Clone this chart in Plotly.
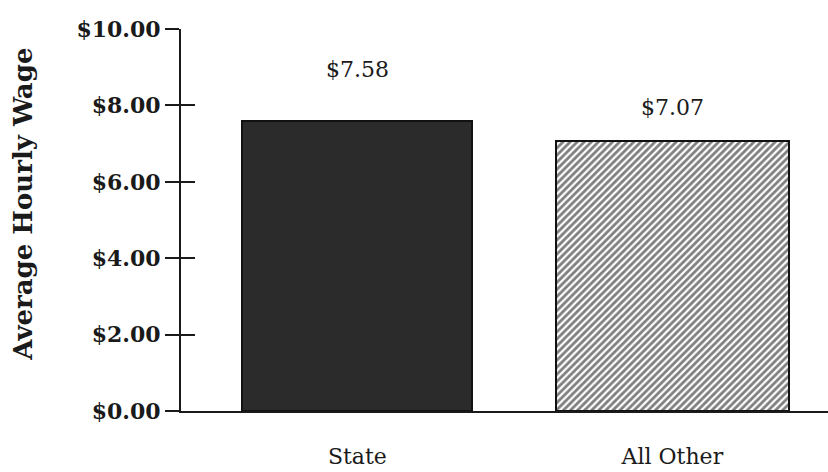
import plotly.graph_objects as go

categories = ["State", "All Other"]
wages = [7.58, 7.07]
value_labels = ["$7.58", "$7.07"]
y_tick_vals = [0, 2, 4, 6, 8, 10]
y_tick_text = ["$0.00", "$2.00", "$4.00", "$6.00", "$8.00", "$10.00"]
label_shift = [37, 19]

SERIF = "DejaVu Serif"

fig = go.Figure()
fig.add_trace(go.Bar(
    x=[categories[0]], y=[wages[0]], width=0.73,
    marker=dict(color="#2b2b2b", line=dict(color="#111111", width=2)),
    showlegend=False, hoverinfo="skip"))
fig.add_trace(go.Bar(
    x=[categories[1]], y=[wages[1]], width=0.74,
    marker=dict(color="white", line=dict(color="#111111", width=2),
                pattern=dict(shape="/", fgcolor="#000000", bgcolor="white",
                             size=5, solidity=0.55)),
    showlegend=False, hoverinfo="skip"))
# invisible trace for inner tick marks
fig.add_trace(go.Scatter(x=categories, y=wages, yaxis="y2", mode="markers",
                         marker=dict(opacity=0), showlegend=False, hoverinfo="skip"))

for c, v, t, s in zip(categories, wages, value_labels, label_shift):
    fig.add_annotation(x=c, y=v, text=t, showarrow=False, yshift=s,
                       yanchor="bottom", font=dict(family=SERIF, size=22, color="#1a1a1a"))

fig.add_annotation(x=0, y=0.54, xref="paper", yref="paper", xshift=-158,
                   xanchor="center", yanchor="middle",
                   text="Average Hourly Wage", textangle=-90, showarrow=False,
                   font=dict(family=SERIF, size=26, color="#1a1a1a", weight="bold"))

fig.update_layout(
    width=828, height=472,
    margin=dict(l=181, r=0, t=29, b=61),
    paper_bgcolor="white", plot_bgcolor="white",
    bargap=0,
    xaxis=dict(type="category", range=[-0.56, 1.494], showline=True,
               linecolor="#1a1a1a", linewidth=2, ticks="", showgrid=False,
               ticklabelstandoff=25,
               tickfont=dict(family=SERIF, size=22, color="#1a1a1a")),
    yaxis=dict(range=[0, 10], tickvals=y_tick_vals, ticktext=y_tick_text,
               showline=True, linecolor="#1a1a1a", linewidth=2, ticks="outside",
               ticklen=14, tickwidth=2, tickcolor="#1a1a1a", showgrid=False,
               zeroline=False,
               tickfont=dict(family=SERIF, size=22, color="#1a1a1a", weight="bold")),
    yaxis2=dict(range=[0, 10], overlaying="y", side="left", anchor="x",
                tickvals=y_tick_vals, showticklabels=False, ticks="inside",
                ticklen=14, tickwidth=2, tickcolor="#1a1a1a", showgrid=False,
                showline=False, zeroline=False),
)

fig.write_html("out.html")
